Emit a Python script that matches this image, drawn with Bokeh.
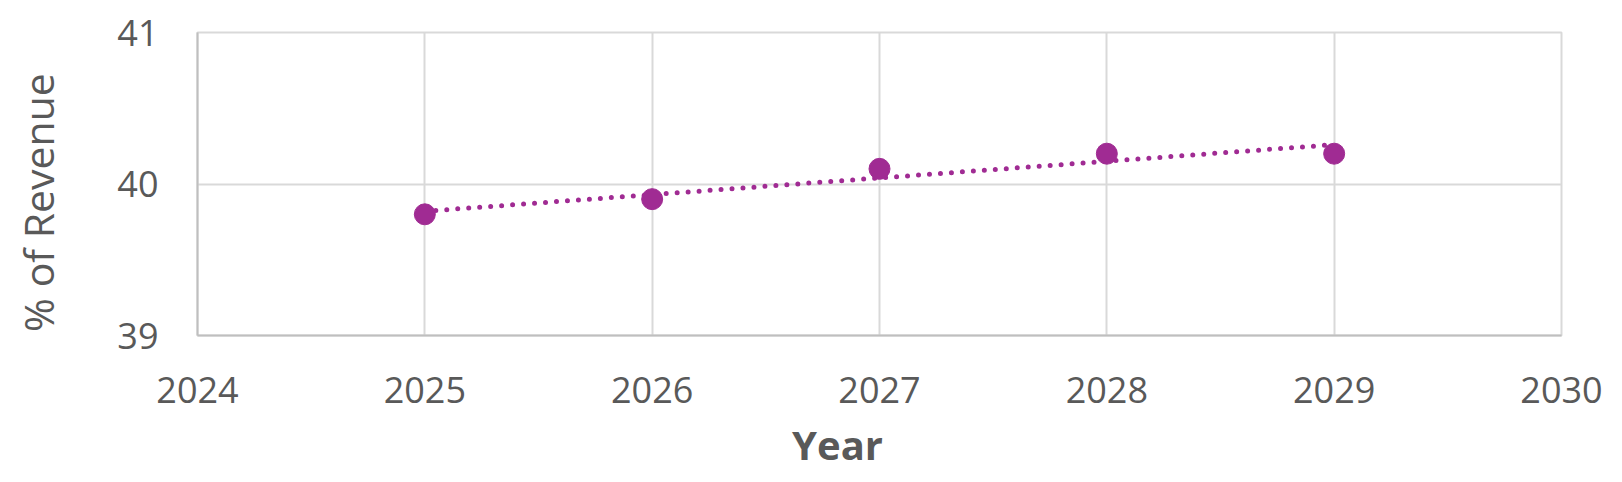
import numpy as np
from bokeh.plotting import figure
from bokeh.layouts import row, column
from bokeh.models import Label, FixedTicker, Range1d
from bokeh.embed import file_html
from bokeh.resources import INLINE

years = [2025, 2026, 2027, 2028, 2029]
pct_revenue = [39.8, 39.9, 40.1, 40.2, 40.2]
x_ticks = [2024, 2025, 2026, 2027, 2028, 2029, 2030]
y_ticks = [39, 40, 41]
x_title = "Year"
y_title = "% of Revenue"

TEXT = "#595959"
PURPLE = "#A02B93"
FONT = "Open Sans"

LEFT_W = 80
MAIN_W = 1606 - LEFT_W
MAIN_H = 426
YEAR_H = 466 - MAIN_H

p = figure(width=MAIN_W, height=MAIN_H, output_backend="svg", toolbar_location=None,
           x_range=Range1d(2024, 2030), y_range=Range1d(39, 41),
           min_border_left=197 - LEFT_W, min_border_right=45, min_border_top=32,
           min_border_bottom=91)
p.outline_line_color = "#d9d9d9"
p.outline_line_width = 2

for ax in (p.xaxis[0], p.yaxis[0]):
    ax.axis_line_color = "#bfbfbf"
    ax.axis_line_width = 2
    ax.major_tick_line_color = None
    ax.minor_tick_line_color = None
    ax.major_tick_out = 0
    ax.major_tick_in = 0
    ax.major_label_text_font = FONT
    ax.major_label_text_font_size = "36px"
    ax.major_label_text_color = TEXT

p.xaxis.ticker = FixedTicker(ticks=x_ticks)
p.yaxis.ticker = FixedTicker(ticks=y_ticks)
p.xaxis.major_label_standoff = 41
p.yaxis.major_label_standoff = 39

p.xgrid.grid_line_color = "#d9d9d9"
p.ygrid.grid_line_color = "#d9d9d9"
p.xgrid.grid_line_width = 2
p.ygrid.grid_line_width = 2

# linear trendline fitted to the data
coef = np.polyfit(years, pct_revenue, 1)
trend_x = [years[0], years[-1]]
trend_y = [float(np.polyval(coef, v)) for v in trend_x]
p.line(trend_x, trend_y, line_color=PURPLE, line_width=5, line_dash="0 11", line_cap="round")

p.scatter(years, pct_revenue, size=21, fill_color=PURPLE, line_color=PURPLE)


def blank(w, h):
    f = figure(width=w, height=h, output_backend="svg", toolbar_location=None,
               x_axis_type=None, y_axis_type=None, x_range=Range1d(0, 1), y_range=Range1d(0, 1),
               min_border=0, min_border_left=0, min_border_right=0,
               min_border_top=0, min_border_bottom=0)
    f.outline_line_color = None
    f.grid.visible = False
    return f


ylab = blank(LEFT_W, 466)
ylab.add_layout(Label(x=37.5, y=202, x_units="canvas", y_units="canvas", text=y_title,
                      angle=np.pi / 2, text_font=FONT, text_font_size="41px",
                      text_color=TEXT, text_align="center", text_baseline="middle"))

xlab = blank(MAIN_W, YEAR_H)
xlab.add_layout(Label(x=837 - LEFT_W, y=18, x_units="canvas", y_units="canvas", text=x_title,
                      text_font=FONT, text_font_size="40px", text_font_style="bold",
                      text_color=TEXT, text_align="center", text_baseline="middle"))

layout = row(ylab, column(p, xlab, spacing=0), spacing=0)
open("out.html", "w").write(file_html(layout, INLINE))
